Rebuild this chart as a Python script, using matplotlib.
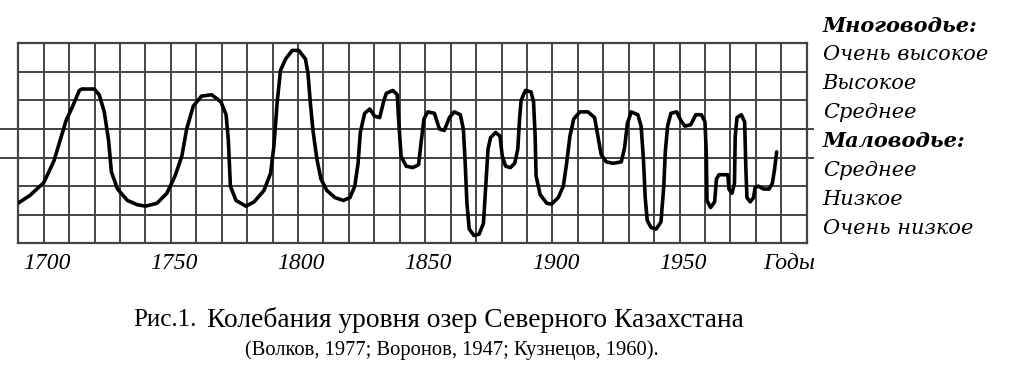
import numpy as np
import matplotlib
matplotlib.use("Agg")
import matplotlib.pyplot as plt

# уровень озер, годы и баллы (0..7 по клеткам сетки)
years_1 = [1690, 1694.5, 1700, 1704, 1708.8, 1711.4, 1714, 1715, 1719.9, 1721.8, 1723.8, 1725.5, 1726.6,
           1729, 1732.9, 1736.8, 1740, 1744.5, 1748.4, 1751.6, 1754.3, 1756.2, 1758.8, 1762, 1766]
level_1 = [1.41, 1.67, 2.12, 2.88, 4.3, 4.8, 5.35, 5.4, 5.4, 5.2, 4.6, 3.6, 2.5,
           1.9, 1.5, 1.35, 1.3, 1.4, 1.75, 2.35, 3.05, 4.0, 4.8, 5.15, 5.2]

years_2 = [1769.7, 1771.7, 1772.6, 1773.4, 1775.6, 1779.5, 1782.7, 1786.6, 1789.2, 1790.5, 1791.8, 1793.1,
           1795.1, 1797.7, 1800.3, 1802.9, 1803.9, 1804.8, 1805.8, 1807.4, 1809, 1811.3, 1814.5, 1817.8,
           1820.4, 1822.3, 1823.6, 1824.5, 1826.2, 1828.2, 1830.1, 1832.1, 1833.6, 1834.7, 1837.3, 1839,
           1839.6, 1840.5, 1842.5, 1845.1]
level_2 = [4.95, 4.5, 3.6, 2.0, 1.5, 1.3, 1.45, 1.85, 2.45, 3.4, 4.95, 6.05,
           6.45, 6.75, 6.75, 6.45, 5.95, 4.95, 4.0, 2.95, 2.25, 1.85, 1.6, 1.5,
           1.6, 2.0, 2.8, 3.9, 4.55, 4.7, 4.45, 4.4, 4.95, 5.25, 5.35, 5.2,
           4.25, 3.05, 2.7, 2.65]

years_3 = [1847.4, 1848.4, 1849.5, 1851, 1853.6, 1855.6, 1857.5, 1859.5, 1861.4, 1863.8, 1865, 1865.7,
           1866.4, 1867.3, 1869.2, 1871.2, 1872.9, 1873.8, 1874.7, 1875.7, 1877.7, 1879.4, 1880.3, 1881.6,
           1883.5, 1885.2, 1886.4, 1887.1, 1887.7, 1889.4, 1891.6, 1892.6, 1893.2, 1893.6, 1895.2, 1897.8,
           1899.7, 1902.3, 1904.3, 1905.6, 1906.9, 1908.4, 1910.8, 1914, 1916.6, 1917.9, 1919.2, 1921.2,
           1923.8]
level_3 = [2.75, 3.55, 4.35, 4.6, 4.55, 4.0, 3.95, 4.4, 4.6, 4.5, 4.0, 2.85,
           1.4, 0.5, 0.27, 0.32, 0.7, 2.0, 3.3, 3.7, 3.88, 3.75, 3.05, 2.7,
           2.65, 2.8, 3.3, 4.35, 5.0, 5.35, 5.3, 4.95, 3.8, 2.35, 1.7, 1.4,
           1.37, 1.6, 2.0, 2.8, 3.75, 4.35, 4.6, 4.6, 4.4, 3.75, 3.1, 2.85,
           2.8]

years_4 = [1927.1, 1928.4, 1929.5, 1931, 1933.6, 1934.9, 1935.8, 1936.5, 1937.3, 1938.8, 1940.8, 1942.7,
           1943.8, 1944.4, 1945.3, 1946.6, 1948.9, 1950.5, 1952.1, 1954.4, 1956.4, 1958.6, 1960, 1960.5,
           1960.8, 1962.2, 1963.8, 1964.5, 1965.5, 1968.1, 1969, 1969.4, 1970.6, 1971.6, 1971.9, 1972.6,
           1974.3, 1975.6, 1976.1, 1976.5, 1977.8, 1979.1, 1979.7, 1981, 1983, 1985.2, 1986.5, 1987.3,
           1988.2]
level_4 = [2.85, 3.35, 4.2, 4.6, 4.5, 4.1, 2.95, 1.6, 0.8, 0.55, 0.5, 0.75,
           2.0, 3.2, 4.1, 4.55, 4.6, 4.3, 4.1, 4.15, 4.5, 4.5, 4.25, 3.2,
           1.5, 1.25, 1.45, 2.25, 2.4, 2.4, 2.4, 1.9, 1.75, 2.1, 3.75, 4.4,
           4.5, 4.25, 2.55, 1.6, 1.45, 1.6, 1.95, 2.0, 1.9, 1.9, 2.1, 2.55,
           3.2]

tick_years = [1700, 1750, 1800, 1850, 1900, 1950]
tick_labels = ["1700", "1750", "1800", "1850", "1900", "1950"]

level_labels = ["Многоводье:", "Очень высокое", "Высокое", "Среднее",
                "Маловодье:", "Среднее", "Низкое", "Очень низкое"]
bold_labels = [0, 4]

caption_1 = "Рис.1."
caption_2 = "Колебания уровня озер Северного Казахстана"
caption_3 = "(Волков, 1977; Воронов, 1947; Кузнецов, 1960)."

years = years_1 + years_2 + years_3 + years_4
level = level_1 + level_2 + level_3 + level_4

W, H = 1017, 382
fig = plt.figure(figsize=(W / 100, H / 100), dpi=100)
ax = fig.add_axes([18.3 / W, 1 - 243.3 / H, (806.7 - 18.3) / W, (243.3 - 43.3) / H])

ax.set_xlim(1690, 2000)
ax.set_ylim(0, 7)

grid_col = "#444444"
for x in np.arange(1700, 2000, 10):
    ax.axvline(x, color=grid_col, lw=1.4, zorder=1)
for y in range(1, 7):
    ax.axhline(y, color=grid_col, lw=1.4, zorder=1)
# две линии границы многоводья / маловодья выходят за сетку
for y in [3, 4]:
    ax.plot([-0.024, 1.008], [y, y], transform=ax.get_yaxis_transform(),
            color=grid_col, lw=1.4, clip_on=False, zorder=1)
for s in ax.spines.values():
    s.set_color(grid_col)
    s.set_linewidth(1.6)

ax.plot(years, level, color="black", lw=2.6, solid_joinstyle="round", solid_capstyle="round", zorder=3)

ax.set_xticks([])
ax.set_yticks([])
for yr, lab in zip(tick_years, tick_labels):
    ax.text(yr + 1.2, -0.72, lab, ha="center", va="center", fontsize=17,
            family="Liberation Serif", style="italic")
ax.text(1993, -0.72, "Годы", ha="center", va="center", fontsize=17,
        family="Liberation Serif", style="italic")

for i, lab in enumerate(level_labels):
    ax.text(2006.3, 7.62 - 1.013 * i, lab, ha="left", va="center", fontsize=15,
            family="DejaVu Serif", style="italic",
            weight="bold" if i in bold_labels else "normal", clip_on=False)

fig.text(133 / W, 1 - 320 / H, caption_1, ha="left", va="center", fontsize=18, family="Liberation Serif")
fig.text(207 / W, 1 - 320 / H, caption_2, ha="left", va="center", fontsize=19.8, family="Liberation Serif")
fig.text(245 / W, 1 - 350 / H, caption_3, ha="left", va="center", fontsize=14.8, family="Liberation Serif")

fig.savefig("out.png", dpi=100)
